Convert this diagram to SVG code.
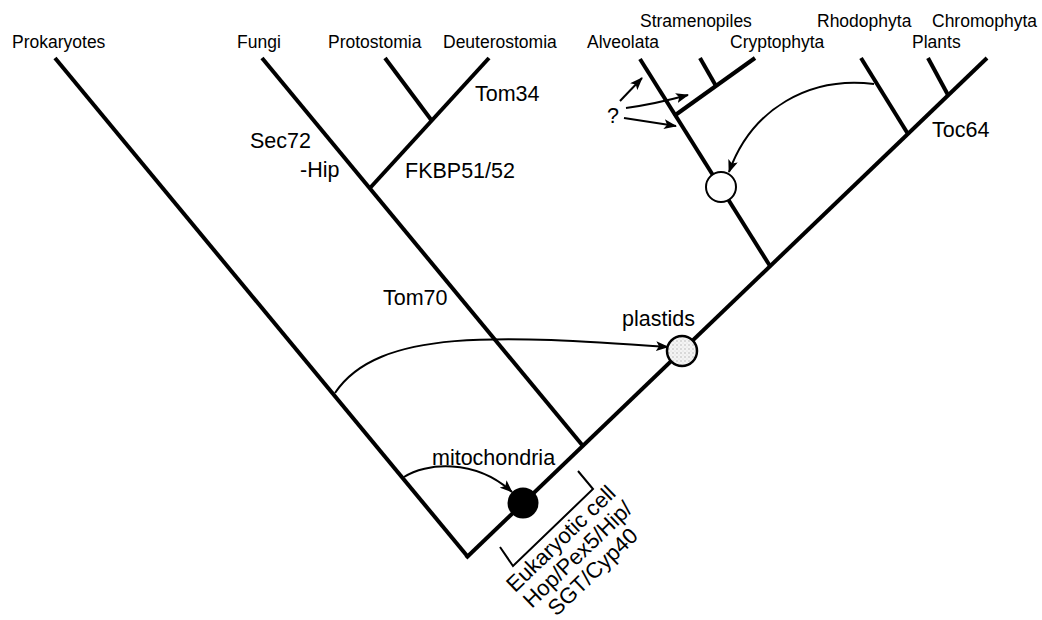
<svg xmlns="http://www.w3.org/2000/svg" width="1042" height="620" viewBox="0 0 1042 620">
<style>
.br{stroke:#000;stroke-width:4;fill:none;stroke-linecap:butt}
.ar{stroke:#000;stroke-width:2;fill:none}
.tip{font-family:"Liberation Sans",Arial,sans-serif;font-size:17.5px;fill:#000}
.lab{font-family:"Liberation Sans",Arial,sans-serif;font-size:21.5px;fill:#000}
.rot{font-family:"Liberation Sans",Arial,sans-serif;font-size:22px;fill:#000}
</style>
<defs>
<marker id="ah" viewBox="0 0 13 10" refX="12" refY="5" markerWidth="13" markerHeight="10" markerUnits="userSpaceOnUse" orient="auto">
<path d="M0,0 L13,5 L0,10 L3,5 z" fill="#000"/>
</marker>
<pattern id="stip" width="4" height="4" patternUnits="userSpaceOnUse">
<rect width="4" height="4" fill="#f4f4f4"/>
<circle cx="1" cy="1" r="0.7" fill="#aaa"/>
<circle cx="3" cy="3" r="0.5" fill="#ccc"/>
</pattern>
</defs>
<rect width="1042" height="620" fill="#fff"/>
<g id="connectors">
<line class="br" x1="55" y1="58" x2="468" y2="557"/>
<line class="br" x1="466" y1="558" x2="987" y2="58"/>
<line class="br" x1="262" y1="58" x2="583" y2="446"/>
<line class="br" x1="370" y1="188" x2="489" y2="58"/>
<line class="br" x1="385" y1="58" x2="432" y2="121"/>
<line class="br" x1="640" y1="59" x2="770" y2="266"/>
<line class="br" x1="674" y1="116" x2="755" y2="58"/>
<line class="br" x1="700" y1="58" x2="716" y2="86"/>
<line class="br" x1="861" y1="58" x2="908" y2="134"/>
<line class="br" x1="928" y1="58" x2="948" y2="95"/>
<path class="ar" d="M 335 393 C 378 328, 500 335, 668 347" marker-end="url(#ah)"/>
<path class="ar" d="M 404 477 C 425 463, 475 458, 512 492" marker-end="url(#ah)"/>
<path class="ar" d="M 874 84 C 810 76, 752 108, 729 172" marker-end="url(#ah)"/>
<path class="ar" d="M 620 101 L 642 78" marker-end="url(#ah)"/>
<path class="ar" d="M 626 108 Q 655 104 688 95" marker-end="url(#ah)"/>
<path class="ar" d="M 624 118 L 676 126" marker-end="url(#ah)"/>
<path class="ar" d="M 500 547 L 513 566 L 593 489 L 578 471"/>
</g>
<g id="node-mitochondria">
<circle cx="523" cy="503" r="15.5" fill="#000"/>
<text class="lab" x="432" y="465">mitochondria</text>
</g>
<g id="node-plastids">
<circle cx="682" cy="351" r="15" fill="url(#stip)" stroke="#000" stroke-width="2.5"/>
<text class="lab" x="622" y="326">plastids</text>
</g>
<g id="node-secondary">
<circle cx="721" cy="187" r="15" fill="#fff" stroke="#000" stroke-width="2"/>
<text class="lab" x="607" y="123">?</text>
</g>
<g id="node-tips">
<text class="tip" x="12" y="48">Prokaryotes</text>
<text class="tip" x="237" y="48">Fungi</text>
<text class="tip" x="328" y="48">Protostomia</text>
<text class="tip" x="443" y="48">Deuterostomia</text>
<text class="tip" x="587" y="48">Alveolata</text>
<text class="tip" x="640" y="27">Stramenopiles</text>
<text class="tip" x="730" y="48">Cryptophyta</text>
<text class="tip" x="817" y="27">Rhodophyta</text>
<text class="tip" x="912" y="48">Plants</text>
<text class="tip" x="932" y="27">Chromophyta</text>
</g>
<g id="node-labels">
<text class="lab" x="475" y="101">Tom34</text>
<text class="lab" x="250" y="148">Sec72</text>
<text class="lab" x="300" y="177">-Hip</text>
<text class="lab" x="405" y="178">FKBP51/52</text>
<text class="lab" x="383" y="305">Tom70</text>
<text class="lab" x="932" y="137">Toc64</text>
</g>
<g id="node-eukaryotic" transform="translate(566,544) rotate(-44)">
<text class="rot" x="0" y="0" text-anchor="middle">Eukaryotic cell</text>
<text class="rot" x="1" y="23" text-anchor="middle">Hop/Pex5/Hip/</text>
<text class="rot" x="0" y="46" text-anchor="middle">SGT/Cyp40</text>
</g>
</svg>
